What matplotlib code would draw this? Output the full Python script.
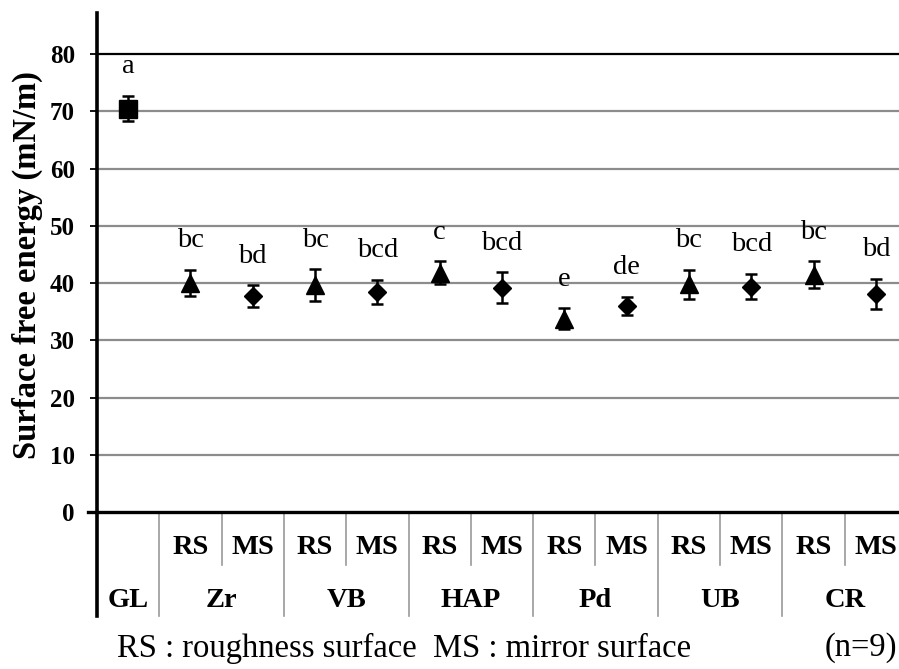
import matplotlib
matplotlib.use("Agg")
import matplotlib.pyplot as plt
import numpy as np

plt.rcParams['font.family'] = ['Liberation Serif', 'DejaVu Serif']

# Surface free energy (mN/m), mean and SD per specimen, n=9
groups = ['GL', 'Zr', 'VB', 'HAP', 'Pd', 'UB', 'CR']
surfaces = ['RS', 'MS']
means = [70.5, 40.0, 37.7, 39.6, 38.5, 41.8, 39.2, 33.8, 36.0, 39.8, 39.4, 41.5, 38.1]
sds = [2.2, 2.3, 1.9, 2.8, 2.1, 2.0, 2.7, 1.8, 1.6, 2.5, 2.2, 2.3, 2.6]
letters = ['a', 'bc', 'bd', 'bc', 'bcd', 'c', 'bcd', 'e', 'de', 'bc', 'bcd', 'bc', 'bd']
yticks = [0, 10, 20, 30, 40, 50, 60, 70, 80]

W, H = 899, 669
fig = plt.figure(figsize=(W / 100, H / 100), dpi=100)
ax = fig.add_axes([97 / W, 157 / H, 810 / W, 499 / H])

x = np.arange(len(means))
means = np.array(means)
sds = np.array(sds)

# gridlines
for v in yticks[1:]:
    ax.axhline(v, color='black' if v == 80 else '#8c8c8c', lw=1.6, zorder=1)

ax.errorbar(x, means, yerr=sds, fmt='none', ecolor='black', elinewidth=1.8,
            capsize=4, capthick=1.8, zorder=3)

# GL square, RS triangles, MS diamonds
ax.plot(x[:1], means[:1], 's', color='black', ms=13, zorder=4)
ax.plot(x[1::2], means[1::2], '^', color='black', ms=13, zorder=4)
ax.plot(x[2::2], means[2::2], 'D', color='black', ms=9, zorder=4)

# significance letters above the error bars
for xi, m, s, lab in zip(x, means, sds, letters):
    ax.text(xi, m + s + 5.1, lab, ha='center', va='center', fontsize=20.5)

ax.set_xlim(-0.5, len(means) - 0.5)
ax.set_ylim(0, 87.2)
ax.set_yticks(yticks)
ax.set_yticklabels([str(v) for v in yticks], fontsize=18, fontweight='bold')
ax.tick_params(axis='y', length=5, width=1.3, pad=11)
ax.set_xticks([])
for s in ['top', 'right', 'bottom', 'left']:
    ax.spines[s].set_visible(False)

fig.text(27 / W, 1 - 265 / H, 'Surface free energy (mN/m)', rotation=90,
         ha='center', va='center', fontsize=23.5, fontweight='bold')

# axis lines
ax.plot([0, 0], [-0.208, 1], transform=ax.transAxes, color='black', lw=2.6,
        clip_on=False, zorder=5)
ax.plot([-0.011, 1.0], [0, 0], transform=ax.transAxes, color='black', lw=2.4,
        clip_on=False, zorder=5)

# category table below the axis
tr = ax.get_xaxis_transform()
row1, row2 = -0.072, -0.178
mid, bottom = -0.106, -0.208
for b in np.arange(0.5, len(means) - 0.5, 1):
    full = int(b - 0.5) % 2 == 0
    ax.plot([b, b], [0, bottom if full else mid], transform=tr, color='#9a9a9a',
            lw=1.2, clip_on=False)

ax.text(0, row2, groups[0], transform=tr, ha='center', va='center',
        fontsize=20.5, fontweight='bold')
for gi, g in enumerate(groups[1:]):
    ax.text(1.5 + 2 * gi, row2, g, transform=tr, ha='center', va='center',
            fontsize=20.5, fontweight='bold')
    for si, s in enumerate(surfaces):
        ax.text(1 + 2 * gi + si, row1, s, transform=tr, ha='center', va='center',
                fontsize=20.5, fontweight='bold')

fig.text(117 / W, 1 - 648 / H, 'RS : roughness surface  MS : mirror surface',
         ha='left', va='center', fontsize=23.5)
fig.text(897 / W, 1 - 648 / H, '(n=9)', ha='right', va='center', fontsize=23.5)

fig.savefig('out.png', dpi=100)
